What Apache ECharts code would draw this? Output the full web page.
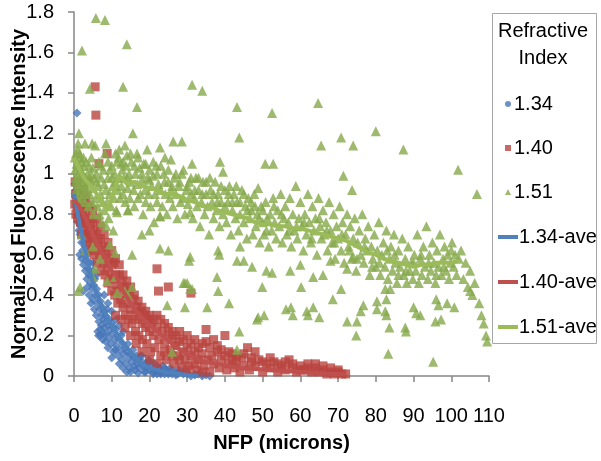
<!DOCTYPE html>
<html><head><meta charset="utf-8">
<script src="https://cdn.jsdelivr.net/npm/echarts@6/dist/echarts.min.js"></script>
<style>html,body{margin:0;padding:0;background:#fff}#c{width:601px;height:461px}</style>
</head><body><div id="c"></div>
<script>
var xTicks = [0,10,20,30,40,50,60,70,80,90,100,110];
var yTicks = [0,0.2,0.4,0.6,0.8,1,1.2,1.4,1.6,1.8];
var seriesNames = ['1.34','1.40','1.51','1.34-ave','1.40-ave','1.51-ave'];

var ri134 = [[0.2,0.95],[0.3,0.9],[0.4,0.86],[0.5,0.92],[0.6,0.88],[0.8,1.3],[0.8,0.84],[1,0.8],[1,0.76],[1.2,0.86],[1.3,0.72],[1.5,0.78],[1.5,0.6],[1.6,0.7],[1.8,0.74],[2,0.66],[2,0.58],[2.2,0.7],[2.3,0.62],[2.5,0.42],[2.5,0.55],[2.7,0.66],[2.8,0.6],[3,0.52],[3,0.64],[3.2,0.57],[3.4,0.48],[3.5,0.6],[3.6,0.44],[3.8,0.53],[4,0.5],[4,0.4],[4.2,0.56],[4.4,0.46],[4.5,0.36],[4.6,0.5],[4.8,0.43],[5,0.52],[5,0.38],[5.2,0.45],[5.4,0.33],[5.5,0.48],[5.7,0.4],[5.9,0.3],[6,0.43],[6.2,0.36],[6.3,0.22],[6.5,0.4],[6.6,0.27],[6.8,0.33],[7,0.37],[7,0.2],[7.2,0.25],[7.3,0.3],[7.5,0.34],[7.6,0.18],[7.8,0.28],[8,0.32],[8,0.24],[8.3,0.3],[8.5,0.21],[8.6,0.27],[8.8,0.33],[9,0.25],[9.2,0.19],[9.4,0.28],[9.6,0.23],[9.8,0.16],[10,0.26],[10.2,0.21],[10.4,0.12],[10.5,0.24],[10.8,0.18],[11,0.23],[11.2,0.15],[11.5,0.2],[11.7,0.1],[12,0.18],[12.2,0.13],[12.5,0.2],[12.7,0.08],[13,0.16],[13.2,0.11],[13.5,0.14],[13.8,0.06],[14,0.12],[14.3,0.16],[14.5,0.09],[14.8,0.04],[15,0.11],[15.3,0.07],[15.6,0.13],[16,0.09],[16.2,0.03],[16.5,0.1],[16.8,0.06],[17,0.08],[17.3,0.04],[17.6,0.1],[18,0.07],[18.3,0.05],[18.6,0.02],[19,0.06],[19.4,0.04],[19.8,0.08],[20,0.03],[20.5,0.05],[21,0.02],[21.3,0.06],[21.8,0.03],[22,0.01],[22.5,0.04],[23,0.02],[23.5,0.05],[24,0.01],[24.5,0.03],[25,0.02],[25.5,0.04],[26,0.01],[27,0.02],[27.5,0.01],[28,0.03],[29,0.01],[30,0.02],[31,0],[32,0.01],[33,0.01],[34,0],[35,0.005],
[9,0.14],[10,0.09],[11,0.13],[12,0.06],[13,0.04],[14,0.02],[15,0.02],[16,0.05],[17,0.015],[18,0.1],[19,0.02],[20,0.07],[21,0.01],[22,0.05],[23,0.01],[24,0.04],[25,0.01],[26,0.03],[27,0.005],[28,0.02],[29,0.02],[30,0.01],[32,0.005],[34,0.01],[36,0],[5,0.56],[6,0.5],[4,0.62],[3,0.7],[2,0.8],[1,0.9],[8,0.4],[9,0.36],[10,0.32],[11,0.28],[12,0.25],[13,0.22],[6.5,0.2],[7,0.23],[7.8,0.21],[8.4,0.17]];

var ri140 = [[0.2,0.85],[0.3,0.96],[0.4,0.9],[0.5,0.8],[0.7,0.88],[0.8,0.84],[1,0.96],[1,0.78],[1.2,0.86],[1.4,0.82],[1.5,0.9],[1.7,0.76],[2,0.84],[2,0.7],[2.2,0.8],[2.4,0.74],[2.6,0.86],[2.8,0.78],[3,0.7],[3,0.82],[3.3,0.76],[3.5,0.66],[3.6,0.96],[3.8,0.72],[4,0.78],[4.2,0.68],[4.4,0.74],[4.5,0.62],[4.8,0.7],[5,0.66],[5,0.76],[5.3,0.6],[5.6,1.43],[5.8,1.29],[5.5,0.72],[5.8,0.64],[6,0.7],[6.2,0.56],[6.5,0.66],[6.6,1.05],[6.8,0.6],[7,0.68],[7.2,0.52],[7.5,0.62],[7.8,0.56],[8,0.64],[8.2,0.5],[8.5,0.6],[8.8,1.1],[8.8,0.54],[9,0.46],[9.3,0.58],[9.6,0.5],[10,0.55],[10,0.42],[10.3,0.48],[10.6,0.56],[10.8,0.4],[11,0.5],[11.3,0.45],[11.6,0.36],[12,0.5],[12,0.42],[12.4,0.38],[12.7,0.46],[13,0.34],[13.3,0.44],[13.6,0.3],[14,0.4],[14,0.36],[14.5,0.28],[14.8,0.42],[15,0.33],[15.4,0.26],[15.7,0.38],[16,0.3],[16.3,0.22],[16.6,0.34],[17,0.28],[17.2,0.2],[17.5,0.32],[18,0.26],[18.2,0.18],[18.6,0.3],[19,0.24],[19.3,0.16],[19.6,0.28],[20,0.22],[20.3,0.12],[20.6,0.26],[21,0.2],[21.5,0.14],[22,0.53],[22.4,0.42],[22,0.24],[22.5,0.18],[23,0.1],[23.4,0.22],[24,0.16],[24.4,0.08],[25,0.44],[25,0.2],[25.5,0.13],[26,0.18],[26.5,0.06],[27,0.15],[27.5,0.1],[28,0.17],[28.5,0.04],[29,0.12],[29.5,0.08],[30,0.14],[30.5,0.05],[31,0.41],[31,0.1],[32,0.12],[32.5,0.03],[33,0.08],[34,0.11],[34.5,0.05],[35,0.23],[35,0.17],[35.5,0.08],[36,0.02],[36.5,0.1],[37,0.06],[38,0.12],[38.5,0.04],[39,0.08],[40,0.2],[40,0.1],[40.5,0.03],[41,0.06],[42,0.11],[42.5,0.04],[43,0.07],[44,0.02],[44.5,0.09],[45,0.05],[46,0.14],[46.5,0.03],[47,0.07],[48,0.05],[49,0.08],[50,0.02],[51,0.06],[52,0.04],[53,0.07],[54,0.02],[55,0.05],[56,0.03],[57,0.08],[58,0.04],[59,0.02],[60,0.05],[61,0.03],[62,0.04],[63,0.02],[64,0.06],[65,0.02],[66,0.03],[67,0.01],[68,0.02],[69,0.01],[70,0.02],[71,0.01],[72,0.01],
[2.5,0.92],[3.2,0.88],[4,0.84],[5,0.82],[6,0.78],[7,0.74],[8,0.7],[9,0.66],[10,0.62],[11,0.58],[12,0.55],[13,0.5],[14,0.47],[15,0.44],[16,0.4],[17,0.37],[18,0.34],[19,0.32],[20,0.3],[21,0.28],[22,0.3],[23,0.28],[24,0.26],[25,0.24],[26,0.22],[27,0.2],[28,0.22],[29,0.18],[30,0.2],[31,0.16],[32,0.18],[33,0.14],[34,0.16],[36,0.14],[37,0.18],[38,0.15],[39,0.13],[41,0.12],[42,0.08],[43,0.1],[45,0.11],[47,0.09],[48,0.12],[50,0.07],[52,0.09],[54,0.06],[56,0.07],[58,0.06],[60,0.03],[62,0.06],[64,0.04],[66,0.05],[68,0.04],[70,0.03],[18,0.12],[20,0.08],[22,0.06],[24,0.12],[26,0.1],[28,0.08],[30,0.03],[32,0.06],[34,0.02],[13.5,0.24],[15,0.2],[16.5,0.16],[11,0.3],[12.5,0.28]];

var ri151 = [[0.2,1.08],[0.3,1.02],[0.4,0.96],[0.5,1.1],[0.6,0.92],[0.7,1.05],[0.8,0.88],[0.9,1.0],[1,1.12],[1,0.95],[1.1,1.15],[1.2,0.9],[1.3,1.2],[1.3,1.04],[1.4,0.86],[1.5,0.98],[1.6,1.08],[1.7,0.93],[1.8,1.02],[2,0.88],[2,1.06],[2.1,1.61],[2.2,0.96],[2.3,1.0],[2.5,0.9],[2.6,1.04],[2.8,0.94],[2.9,1.15],[3,0.98],[3,0.86],
[3.2,1.06],[3.4,0.92],[3.6,1.0],[3.8,0.84],[4,1.04],[4.2,1.42],[4.2,0.9],[4.4,0.97],[4.6,1.08],[4.8,1.15],[4.8,0.86],[5,1.03],[5,0.93],[5.2,0.8],[5.4,0.98],[5.6,1.14],[5.8,1.77],[5.8,0.88],[6,1.0],[6.2,0.84],[6.4,0.94],[6.6,1.06],[6.8,0.8],[7,0.9],[7.2,0.98],[7.4,0.76],[7.6,0.86],[7.8,1.02],[8,0.82],[8.2,1.76],[8.2,1.1],[8.4,0.92],[8.5,1.15],[8.6,0.74],[8.8,0.86],[9,0.98],
[9.2,0.78],[9.4,0.9],[9.6,1.02],[9.8,0.84],[10,1.04],[10.2,0.94],[10.4,0.72],[10.6,0.88],[10.8,1.0],[11,0.96],[11.2,0.82],[11.4,1.06],[11.6,0.92],[11.8,1.08],[12,0.98],[12.2,0.88],[12.5,1.05],[12.6,0.94],[12.8,1.02],[13,1.43],[13,0.9],[13.2,0.98],[13.5,1.14],[13.6,0.86],[13.8,1.04],[14,1.64],[14,1.09],[14.2,0.93],[14.3,0.82],[14.6,1.0],[14.8,0.88],[15,0.96],[15.2,1.06],
[15.6,1.2],[15.8,0.92],[16,0.84],[16.3,1.0],[16.7,1.33],[16.7,1.1],[16.8,0.95],[17,0.88],[17.4,1.03],[17.6,0.9],[18,0.97],[18.3,0.8],[18.5,1.05],[18.8,0.92],[19,0.86],[19.4,1.12],[19.5,0.98],[19.8,0.9],[20,1.02],[20.3,0.84],[20.6,0.94],[21,0.99],[21.2,0.76],[21.5,0.9],[21.8,1.04],[22,0.86],[22.4,0.95],[22.8,1.13],[22.8,0.79],[23,0.92],[23.4,0.84],[23.8,1.0],[24.1,1.08],[24.2,0.9],[24.6,0.8],[25,0.96],[25.4,0.88],[25.7,1.07],[25.8,0.92],[26.3,1.16],[26.2,0.84],[26.6,0.98],[27,0.9],[27.4,0.78],[27.8,0.94],[28.2,0.86],[28.6,1.16],[28.6,1.0],[29,0.88],[29.4,0.8],[29.8,0.92],
[30.2,0.85],[30.6,0.96],[31,0.9],[31.3,1.44],[31.3,1.05],[31.5,0.78],[31.9,0.88],[32.3,0.98],[32.6,0.84],[33,0.92],[33.4,0.74],[33.8,0.86],[34,1.41],[34.2,0.96],[34.6,0.8],[35,0.9],[35.4,0.84],[35.8,0.7],[36.2,0.92],[36.6,0.86],[37,0.78],[37.4,0.96],[37.8,0.82],[38.2,0.9],[38.7,1.06],[38.6,0.74],[39,0.86],[39.5,1.01],[39.5,0.8],[40,0.92],[40.4,0.76],[40.8,0.86],[41.2,0.94],[41.6,0.7],[42,0.82],[42.4,0.9],[42.8,0.78],[43.2,1.33],[43.2,0.86],[43.8,1.18],[43.6,0.72],[44,0.8],[44.5,0.92],[45,0.76],[45.4,0.84],[45.8,0.68],[46.2,0.88],[46.6,0.78],[47,0.82],[47.4,0.7],[47.8,0.9],[48.2,0.74],[48.8,0.93],[48.6,0.8],[49.2,0.66],[49.6,0.84],
[50,0.76],[50.4,0.7],[50.7,1.05],[50.8,0.86],[51.2,0.78],[51.6,0.64],[52,0.8],[52.5,1.3],[52.4,0.72],[52.8,1.05],[52.8,0.88],[53.2,0.76],[53.6,0.68],[54,0.82],[54.4,0.74],[54.8,0.9],[55.2,0.66],[55.6,0.78],[56,0.84],[56.4,0.7],[56.8,0.76],[57.2,0.88],[57.6,0.64],[58,0.8],[58.4,0.72],[58.8,0.94],[59.2,0.68],[59.6,0.78],[60,0.86],[60.4,0.74],[60.8,0.62],[61.2,0.8],[61.6,0.7],[62,0.9],[62.4,0.76],[62.8,0.66],[63.2,0.84],[63.6,0.72],[64,0.78],[64.7,1.35],[64.4,0.6],[64.8,0.88],[65.5,1.14],[65.2,0.74],[65.6,0.68],[66,0.82],[66.4,0.7],[66.8,0.76],[67.2,0.62],[67.6,0.86],[68,0.72],[68.4,0.66],[68.8,0.8],[69.2,0.58],[69.6,0.74],
[70,0.68],[70.4,0.84],[70.8,1.18],[70.8,0.62],[71.4,0.99],[71.2,0.76],[71.6,0.56],[72,0.7],[72.4,0.8],[72.8,0.64],[73.2,0.74],[73.7,0.92],[73.6,0.58],[74,1.14],[74,0.68],[74.4,0.78],[74.8,0.52],[75.2,0.66],[75.6,0.72],[76,0.6],[76.4,0.8],[76.8,0.56],[77.2,0.68],[77.6,0.62],[78,0.74],[78.4,0.5],[78.8,0.64],[79.2,0.58],[79.6,0.7],[80,1.21],[80,0.54],[80.4,0.62],[80.8,0.76],[81.2,0.5],[81.6,0.6],[82,0.66],[82.4,0.54],[82.8,0.72],[83.2,0.48],[83.6,0.58],[84,0.64],[84.4,0.52],[84.8,0.7],[85.2,0.56],[85.6,0.46],[86,0.62],[86.4,0.54],[87,0.68],[87.3,1.12],[87.4,0.5],[87.8,0.58],[88.2,0.46],[88.6,0.64],[89,0.52],[89.4,0.56],[89.8,0.48],
[90.2,0.6],[90.6,0.52],[91,0.7],[91.4,0.46],[91.8,0.58],[92.2,0.5],[92.6,0.64],[93,0.54],[93.4,0.74],[93.8,0.48],[94.2,0.6],[94.6,0.52],[95,0.66],[95.4,0.56],[95.8,0.46],[96.2,0.62],[96.6,0.54],[97,0.7],[97.4,0.5],[97.8,0.58],[98.2,0.64],[98.6,0.52],[99,0.6],[99.4,0.48],[99.8,0.56],[100.2,0.66],[100.6,0.54],[101,0.6],[101.4,0.5],[101.8,1.02],[102,0.58],[102.6,0.62],[103.2,0.48],[103.8,0.56],[104.4,0.44],[105,0.52],[105.6,0.4],[106.2,0.46],[106.8,0.9],[107.4,0.36],[108,0.3],[108.6,0.26],[109.2,0.2],[109.5,0.17],
[29.4,0.46],[30.8,0.43],[29.4,0.34],[35.3,0.34],[37.9,0.49],[38.2,0.42],[41.1,0.36],[43.8,0.22],[43.2,0.13],[48.8,0.29],[49.9,0.44],[30.8,0.59],[38.2,0.62],[38.5,0.6],[43.2,0.57],[45,0.57],[47.2,0.54],[51,0.52],[52.5,0.51],[60.2,0.44],[70.8,0.43],[68.6,0.38],[63.4,0.34],[61.7,0.32],[62,0.3],[56.2,0.33],[57.5,0.34],[58,0.3],[48.5,0.28],[50.4,0.3],[65,0.29],[72.4,0.27],[75,0.27],[74.8,0.2],[76.7,0.35],[76,0.32],[80.3,0.37],[80.3,0.33],[82.5,0.43],[83.8,0.43],[82.8,0.38],[82.5,0.32],[82.8,0.3],[83.6,0.24],[83.3,0.11],[87.8,0.24],[88,0.22],[90,0.34],[90.7,0.31],[91.8,0.3],[95.8,0.27],[97.3,0.28],[96,0.38],[96.6,0.35],[98.9,0.36],[100.8,0.34],[95.2,0.07],[105,0.42],
[57.3,0.52],[63.4,0.49],[68,0.57],[72.4,0.53],[74,0.59],[60,0.55],[66,0.5],[44,0.64],
[1.6,0.44],[1.1,0.42],[9.5,0.65],[10.9,0.61],[15.4,0.6],[6.9,0.58],[5.6,0.53],[5,0.49],[8.8,0.47],[10.9,0.49],[11.4,0.41],[15.4,0.44],[14.3,0.4],[26,0.12],[22.8,0.63],[25,0.62],[30.5,0.57],[29,0.46],[31.3,0.43],[30.8,0.81],[11.4,0.81],[5,0.64],[13.5,0.42],[24.7,0.35],[30,0.46],[14.3,0.82],[22.8,0.79],[20,0.72],[18,0.7],[3,0.62],[2,0.7],
[0.5,0.98],[1.5,1.1],[2.5,1.08],[3.5,0.95],[4.5,1.0],[6,0.96],[7,1.04],[8,0.95],[9,1.06],[10,0.98],[11,1.1],[12,1.12],[13,1.06],[14,0.98],[15,1.1],[16,1.04],[17,1.08],[18,1.0],[19,1.05],[20,0.97],[21,1.06],[22,1.0],[23,1.04],[24,0.96],[25,1.02],[26,0.94],[27,1.0],[28,0.96],[29,1.02],[30,0.94],[31,0.98],[32,0.92],[33,0.98],[34,0.9],[35,0.96],[36,0.98],[37,0.9],[38,0.86],[39,0.94],[40,0.84],[41,0.9],[42,0.86],[43,0.94],[44,0.86],[45,0.9],[46,0.82],[47,0.86],[48,0.84],[49,0.78],[50,0.82],[51,0.72],[53,0.84],[55,0.8],[57,0.72],[59,0.74],[61,0.76],[63,0.68],[65,0.78],[67,0.72],[69,0.66],[71,0.7],[73,0.62],[75,0.58],[77,0.64],[79,0.54],[81,0.56],[83,0.62],[85,0.6],[86,0.5],[88,0.52],[90,0.56],[92,0.6],[94,0.56],[96,0.5],[98,0.54],[100,0.62]];

var ave134 = [[0,0.9],[1,0.8],[2,0.71],[3,0.62],[4,0.53],[5,0.46],[6,0.41],[7,0.36],[8,0.32],[9,0.28],[10,0.25],[11,0.22],[12,0.19],[13,0.16],[14,0.14],[15,0.12],[16,0.1],[17,0.08],[18,0.06],[19,0.05],[20,0.04],[22,0.03],[24,0.02],[26,0.015],[28,0.01],[30,0.005],[33,0]];
var ave140 = [[0,0.87],[1,0.85],[2,0.82],[3,0.78],[4,0.74],[5,0.7],[6,0.66],[7,0.62],[8,0.59],[9,0.56],[10,0.52],[11,0.5],[12,0.46],[13,0.42],[14,0.39],[15,0.36],[16,0.33],[17,0.31],[18,0.29],[19,0.27],[20,0.25],[21,0.24],[22,0.22],[24,0.19],[26,0.16],[28,0.13],[30,0.11],[32,0.09],[35,0.07],[38,0.06],[41,0.05],[44,0.04],[48,0.035],[52,0.03],[56,0.025],[60,0.02],[64,0.015],[68,0.01],[72,0.01]];
var ave151 = [[0,1.08],[1,1.04],[2,1.0],[3,0.97],[4,0.95],[5,0.93],[6,0.9],[7,0.87],[8,0.84],[9,0.82],[10,0.88],[11,0.94],[12,0.99],[13,0.97],[14,0.95],[16,0.96],[18,0.94],[20,0.93],[22,0.92],[24,0.9],[26,0.9],[28,0.89],[30,0.87],[32,0.86],[34,0.84],[36,0.84],[38,0.82],[40,0.81],[42,0.8],[44,0.79],[46,0.78],[48,0.76],[50,0.75],[52,0.75],[54,0.74],[56,0.74],[58,0.73],[60,0.73],[62,0.72],[64,0.71],[66,0.7],[68,0.69],[70,0.68],[72,0.67],[74,0.65],[76,0.63],[78,0.61],[80,0.6],[82,0.58],[84,0.57],[86,0.56],[88,0.55],[90,0.54],[92,0.55],[94,0.55],[96,0.56],[98,0.56],[100,0.56],[102,0.57]];

var FONT = 'Liberation Sans';
var chart = echarts.init(document.getElementById('c'), null, {renderer:'canvas'});
var axisCol = '#868686';
chart.setOption({
  animation:false,
  backgroundColor:'#fff',
  textStyle:{fontFamily:FONT,color:'#000'},
  grid:{left:74,right:112,top:12,bottom:85,containLabel:false,outerBoundsMode:'none'},
  xAxis:{type:'value',min:xTicks[0],max:xTicks[xTicks.length-1],interval:10,
    name:'NFP (microns)',nameLocation:'middle',nameGap:57,nameMoveOverlap:false,
    nameTextStyle:{fontFamily:FONT,fontSize:20,fontWeight:'bold',color:'#000'},
    axisLine:{lineStyle:{color:axisCol,width:1.5}},
    axisTick:{show:true,length:6,lineStyle:{color:axisCol,width:1.5}},
    axisLabel:{fontFamily:FONT,fontSize:20,color:'#000',margin:30},
    splitLine:{show:false}},
  yAxis:{type:'value',min:yTicks[0],max:yTicks[yTicks.length-1],interval:0.2,
    name:'Normalized Fluorescence Intensity',nameLocation:'middle',nameGap:45,nameMoveOverlap:false,
    nameTextStyle:{fontFamily:FONT,fontSize:20,fontWeight:'bold',color:'#000'},
    axisLine:{show:true,lineStyle:{color:axisCol,width:1.5}},
    axisTick:{show:true,length:6,lineStyle:{color:axisCol,width:1.5}},
    axisLabel:{fontFamily:FONT,fontSize:20,color:'#000',margin:20,
      formatter:function(v){return String(Math.round(v*10)/10);}},
    splitLine:{show:false}},
  graphic:[
    {type:'rect',z:0,shape:{x:492.5,y:13.5,width:104,height:330},style:{fill:'#fff',stroke:'#A6A6A6',lineWidth:1}},
    {type:'text',z:5,x:543,y:18,style:{text:'Refractive\nIndex',font:'20px "Liberation Sans"',fill:'#000',textAlign:'center',lineHeight:27}}
  ],
  legend:[
    {orient:'vertical',left:500,top:89,itemWidth:6,itemHeight:6,itemGap:24,selectedMode:false,
     textStyle:{fontFamily:FONT,fontSize:20,color:'#000',lineHeight:20,padding:[0,0,0,-2]},
     data:[{name:seriesNames[0],icon:'circle'},{name:seriesNames[1],icon:'rect'},{name:seriesNames[2],icon:'triangle'}]},
    {orient:'vertical',left:493,top:222,itemWidth:20,itemHeight:4,itemGap:25,selectedMode:false,
     textStyle:{fontFamily:FONT,fontSize:20,color:'#000',lineHeight:20,padding:[0,0,0,-4]},
     data:[{name:seriesNames[3],icon:'rect'},{name:seriesNames[4],icon:'rect'},{name:seriesNames[5],icon:'rect'}]}
  ],
  series:[
    {name:seriesNames[0],type:'scatter',data:ri134,symbol:'diamond',symbolSize:9,itemStyle:{color:'#4676B8'},z:2},
    {name:seriesNames[1],type:'scatter',data:ri140,symbol:'rect',symbolSize:9,itemStyle:{color:'#B9443F'},z:3},
    {name:seriesNames[2],type:'scatter',data:ri151,symbol:'triangle',symbolSize:10,itemStyle:{color:'#86A94B'},z:4},
    {name:seriesNames[3],type:'line',data:ave134,showSymbol:false,symbol:'none',lineStyle:{width:4,color:'#4F81BD'},itemStyle:{color:'#4F81BD'},z:5},
    {name:seriesNames[4],type:'line',data:ave140,showSymbol:false,symbol:'none',lineStyle:{width:4,color:'#C0504D'},itemStyle:{color:'#C0504D'},z:6},
    {name:seriesNames[5],type:'line',data:ave151,showSymbol:false,symbol:'none',lineStyle:{width:4,color:'#9BBB59'},itemStyle:{color:'#9BBB59'},z:7}
  ]
});
</script></body></html>
